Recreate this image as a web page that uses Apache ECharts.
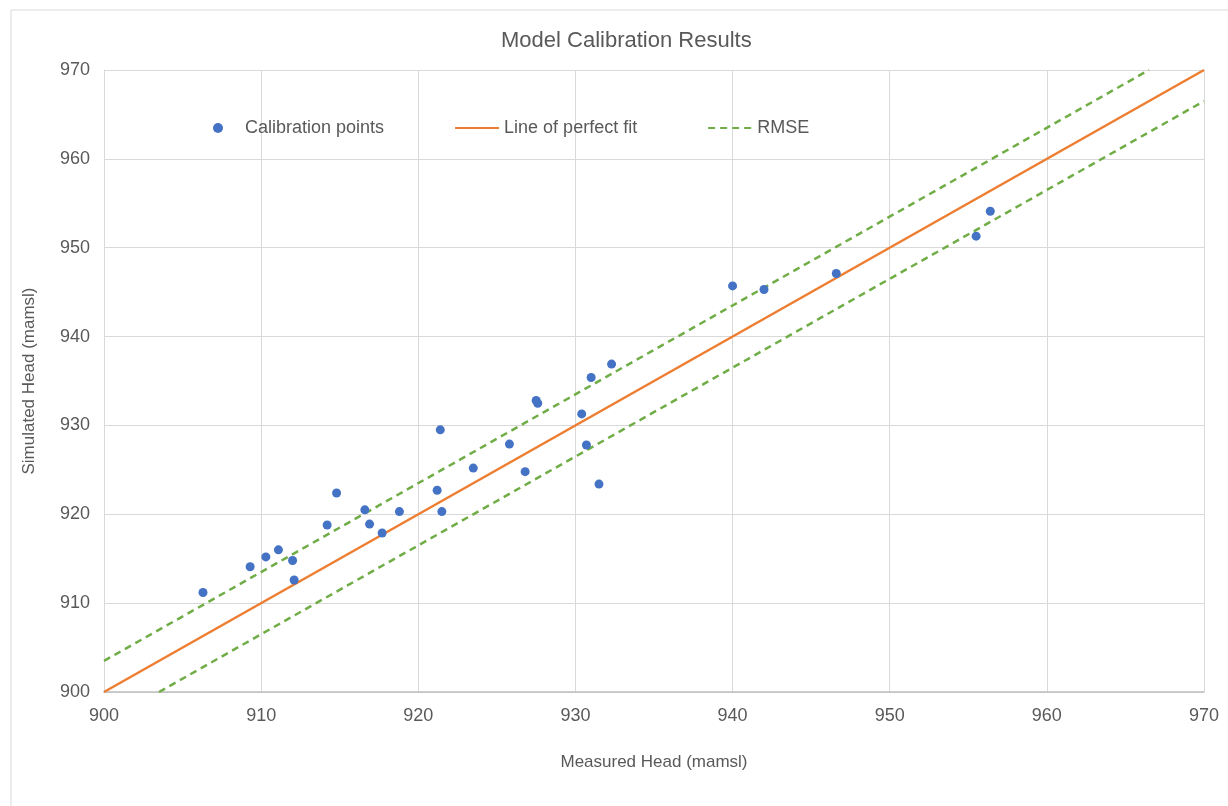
<!DOCTYPE html>
<html>
<head>
<meta charset="utf-8">
<script src="https://cdn.jsdelivr.net/npm/echarts@6/dist/echarts.min.js"></script>
<style>
  html, body { margin: 0; padding: 0; background: #fff; }
  #chart { width: 1228px; height: 806px; }
</style>
</head>
<body>
<div id="chart"></div>
<script>
// measured vs simulated heads (mamsl)
const measured = [
  906.3, 909.3, 910.3, 911.1, 912.0, 912.1, 914.2, 914.8, 916.6, 916.9,
  917.7, 918.8, 921.2, 921.4, 921.5, 923.5, 925.8, 926.8, 927.5, 927.6,
  930.4, 930.7, 931.0, 931.5, 932.3, 940.0, 942.0, 946.6, 955.5, 956.4
];
const simulated = [
  911.2, 914.1, 915.2, 916.0, 914.8, 912.6, 918.8, 922.4, 920.5, 918.9,
  917.9, 920.3, 922.7, 929.5, 920.3, 925.2, 927.9, 924.8, 932.8, 932.5,
  931.3, 927.8, 935.4, 923.4, 936.9, 945.7, 945.3, 947.1, 951.3, 954.1
];
const fitEnds = [900, 970];
const rmse = 3.5;
const axisTicks = [900, 910, 920, 930, 940, 950, 960, 970];

const points = measured.map((m, i) => [m, simulated[i]]);
const perfectFit = fitEnds.map(v => [v, v]);
const rmseUpper = [[fitEnds[0], fitEnds[0] + rmse], [fitEnds[1] - rmse, fitEnds[1]]];
const rmseLower = [[fitEnds[0] + rmse, fitEnds[0]], [fitEnds[1], fitEnds[1] - rmse]];

const font = "Liberation Sans, Arial, Helvetica, sans-serif";
const grey = "#595959";

const chart = echarts.init(document.getElementById("chart"));
chart.setOption({
  backgroundColor: "#fff",
  animation: false,
  textStyle: { fontFamily: font },
  graphic: [{
    type: "rect",
    shape: { x: 11, y: 10, width: 1400, height: 1000 },
    style: { fill: "none", stroke: "#d9d9d9", lineWidth: 1 },
    silent: true
  }],
  title: {
    text: "Model Calibration Results",
    left: 496,
    top: 25,
    textStyle: { fontFamily: font, fontSize: 22, fontWeight: "normal", color: grey }
  },
  legend: {
    left: 208,
    top: 114,
    itemWidth: 44,
    itemHeight: 10,
    itemGap: 70,
    textStyle: { fontFamily: font, fontSize: 18, color: grey },
    data: [
      { name: "Calibration points", icon: "circle" },
      { name: "Line of perfect fit", itemStyle: { opacity: 0 } },
      { name: "RMSE", itemStyle: { opacity: 0 } }
    ]
  },
  grid: { left: 104, right: 24, top: 70, bottom: 114 },
  xAxis: {
    type: "value",
    min: axisTicks[0],
    max: axisTicks[axisTicks.length - 1],
    interval: 10,
    name: "Measured Head (mamsl)",
    nameLocation: "middle",
    nameGap: 62,
    nameTextStyle: { fontFamily: font, fontSize: 17, color: grey },
    axisLine: { show: true, lineStyle: { color: "#bfbfbf", width: 1.5 } },
    axisTick: { show: false },
    axisLabel: { fontFamily: font, fontSize: 18, color: grey, margin: 15 },
    splitLine: { show: true, lineStyle: { color: "#d9d9d9" } }
  },
  yAxis: {
    type: "value",
    min: axisTicks[0],
    max: axisTicks[axisTicks.length - 1],
    interval: 10,
    name: "Simulated Head (mamsl)",
    nameLocation: "middle",
    nameGap: 66,
    nameTextStyle: { fontFamily: font, fontSize: 17, color: grey },
    axisLine: { show: true, lineStyle: { color: "#d9d9d9" } },
    axisTick: { show: false },
    axisLabel: { fontFamily: font, fontSize: 18, color: grey, margin: 14 },
    splitLine: { show: true, lineStyle: { color: "#d9d9d9" } }
  },
  series: [
    {
      name: "Calibration points",
      type: "scatter",
      data: points,
      symbolSize: 9,
      itemStyle: { color: "#4472C4", opacity: 1 },
      z: 5
    },
    {
      name: "Line of perfect fit",
      type: "line",
      data: perfectFit,
      showSymbol: false,
      symbol: "none",
      itemStyle: { color: "#ED7D31" },
      lineStyle: { color: "#ED7D31", width: 2.5 }
    },
    {
      name: "RMSE",
      type: "line",
      data: rmseUpper,
      showSymbol: false,
      symbol: "none",
      itemStyle: { color: "#70AD47" },
      lineStyle: { color: "#70AD47", width: 2.5, type: [7, 5] }
    },
    {
      name: "RMSE",
      type: "line",
      data: rmseLower,
      showSymbol: false,
      symbol: "none",
      itemStyle: { color: "#70AD47" },
      lineStyle: { color: "#70AD47", width: 2.5, type: [7, 5] }
    }
  ]
});
</script>
</body>
</html>
